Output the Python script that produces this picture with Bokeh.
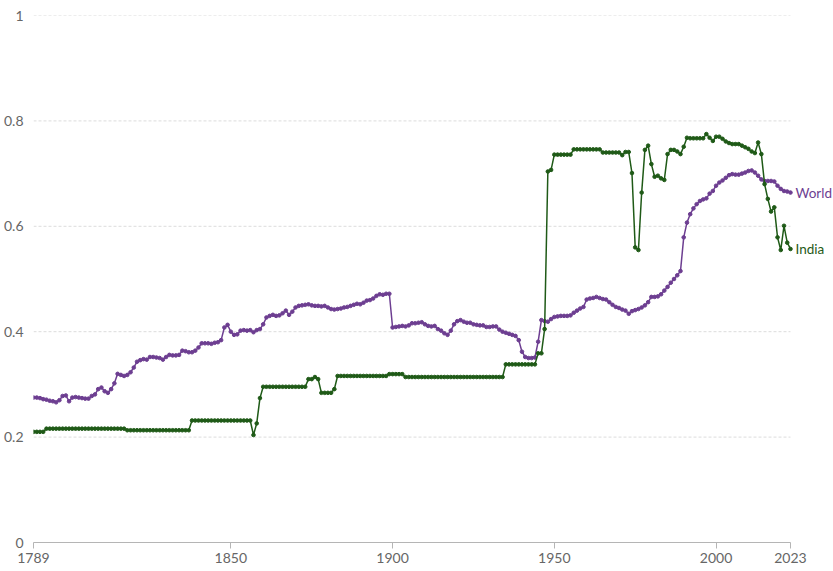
from bokeh.plotting import figure
from bokeh.models import Range1d, FixedTicker, Label, CustomJSTickFormatter, ColumnDataSource
from bokeh.embed import file_html
from bokeh.resources import INLINE

years = list(range(1789, 2024))

world = [
    0.275,
    0.275, 0.274, 0.272, 0.271, 0.269, 0.268, 0.266, 0.270, 0.278, 0.279,  # 1790s
    0.268, 0.275, 0.276, 0.275, 0.274, 0.273, 0.273, 0.278, 0.281, 0.291,  # 1800s
    0.294, 0.287, 0.284, 0.291, 0.302, 0.320, 0.318, 0.316, 0.318, 0.323,  # 1810s
    0.332, 0.343, 0.346, 0.348, 0.347, 0.352, 0.352, 0.351, 0.350, 0.347,  # 1820s
    0.352, 0.356, 0.355, 0.355, 0.356, 0.364, 0.363, 0.361, 0.361, 0.364,  # 1830s
    0.370, 0.378, 0.378, 0.378, 0.377, 0.379, 0.380, 0.384, 0.408, 0.413,  # 1840s
    0.400, 0.394, 0.395, 0.402, 0.403, 0.402, 0.403, 0.399, 0.403, 0.405,  # 1850s
    0.414, 0.427, 0.430, 0.432, 0.430, 0.431, 0.435, 0.440, 0.432, 0.438,  # 1860s
    0.446, 0.449, 0.450, 0.451, 0.452, 0.450, 0.449, 0.449, 0.448, 0.449,  # 1870s
    0.446, 0.443, 0.442, 0.443, 0.444, 0.446, 0.447, 0.449, 0.451, 0.453,  # 1880s
    0.452, 0.455, 0.459, 0.460, 0.463, 0.468, 0.471, 0.470, 0.472, 0.472,  # 1890s
    0.408, 0.409, 0.410, 0.411, 0.410, 0.412, 0.416, 0.416, 0.417, 0.418,  # 1900s
    0.414, 0.411, 0.410, 0.411, 0.405, 0.402, 0.397, 0.394, 0.402, 0.414,  # 1910s
    0.420, 0.422, 0.419, 0.417, 0.417, 0.414, 0.413, 0.412, 0.412, 0.409,  # 1920s
    0.409, 0.410, 0.410, 0.404, 0.400, 0.398, 0.396, 0.394, 0.392, 0.384,  # 1930s
    0.362, 0.352, 0.350, 0.350, 0.351, 0.381, 0.422, 0.420, 0.419, 0.424,  # 1940s
    0.428, 0.429, 0.430, 0.430, 0.430, 0.431, 0.436, 0.440, 0.444, 0.447,  # 1950s
    0.461, 0.463, 0.464, 0.466, 0.464, 0.462, 0.461, 0.456, 0.451, 0.447,  # 1960s
    0.445, 0.442, 0.440, 0.434, 0.439, 0.441, 0.443, 0.446, 0.450, 0.456,  # 1970s
    0.466, 0.466, 0.467, 0.471, 0.478, 0.485, 0.493, 0.500, 0.507, 0.515,  # 1980s
    0.579, 0.607, 0.623, 0.634, 0.642, 0.648, 0.651, 0.653, 0.662, 0.667,  # 1990s
    0.677, 0.683, 0.687, 0.692, 0.697, 0.699, 0.698, 0.698, 0.700, 0.702,  # 2000s
    0.705, 0.706, 0.702, 0.696, 0.689, 0.686, 0.686, 0.686, 0.685, 0.677,  # 2010s
    0.671, 0.667, 0.666, 0.664,                                            # 2020s
]

india = [
    0.210,
    0.210, 0.210, 0.210, 0.216, 0.216, 0.216, 0.216, 0.216, 0.216, 0.216,  # 1790s
    0.216, 0.216, 0.216, 0.216, 0.216, 0.216, 0.216, 0.216, 0.216, 0.216,  # 1800s
    0.216, 0.216, 0.216, 0.216, 0.216, 0.216, 0.216, 0.216, 0.213, 0.213,  # 1810s
    0.213, 0.213, 0.213, 0.213, 0.213, 0.213, 0.213, 0.213, 0.213, 0.213,  # 1820s
    0.213, 0.213, 0.213, 0.213, 0.213, 0.213, 0.213, 0.213, 0.2315, 0.2315,  # 1830s
    0.2315, 0.2315, 0.2315, 0.2315, 0.2315, 0.2315, 0.2315, 0.2315, 0.2315, 0.2315,  # 1840s
    0.2315, 0.2315, 0.2315, 0.2315, 0.2315, 0.2315, 0.2315, 0.204, 0.226, 0.274,  # 1850s
    0.2955, 0.2955, 0.2955, 0.2955, 0.2955, 0.2955, 0.2955, 0.2955, 0.2955, 0.2955,  # 1860s
    0.2955, 0.2955, 0.2955, 0.2955, 0.310, 0.310, 0.314, 0.310, 0.284, 0.284,  # 1870s
    0.284, 0.284, 0.291, 0.316, 0.316, 0.316, 0.316, 0.316, 0.316, 0.316,  # 1880s
    0.316, 0.316, 0.316, 0.316, 0.316, 0.316, 0.316, 0.316, 0.316, 0.3195,  # 1890s
    0.3195, 0.3195, 0.3195, 0.3195, 0.314, 0.314, 0.314, 0.314, 0.314, 0.314,  # 1900s
    0.314, 0.314, 0.314, 0.314, 0.314, 0.314, 0.314, 0.314, 0.314, 0.314,  # 1910s
    0.314, 0.314, 0.314, 0.314, 0.314, 0.314, 0.314, 0.314, 0.314, 0.314,  # 1920s
    0.314, 0.314, 0.314, 0.314, 0.314, 0.338, 0.338, 0.338, 0.338, 0.338,  # 1930s
    0.338, 0.338, 0.338, 0.338, 0.338, 0.359, 0.359, 0.405, 0.704, 0.707,  # 1940s
    0.736, 0.736, 0.736, 0.736, 0.736, 0.736, 0.746, 0.746, 0.746, 0.746,  # 1950s
    0.746, 0.746, 0.746, 0.746, 0.746, 0.740, 0.740, 0.740, 0.740, 0.740,  # 1960s
    0.740, 0.735, 0.741, 0.741, 0.701, 0.560, 0.555, 0.664, 0.745, 0.753,  # 1970s
    0.718, 0.694, 0.696, 0.691, 0.688, 0.737, 0.745, 0.745, 0.742, 0.737,  # 1980s
    0.751, 0.768, 0.767, 0.767, 0.767, 0.767, 0.767, 0.775, 0.768, 0.762,  # 1990s
    0.770, 0.770, 0.766, 0.761, 0.758, 0.756, 0.756, 0.756, 0.753, 0.750,  # 2000s
    0.747, 0.742, 0.739, 0.759, 0.737, 0.680, 0.652, 0.628, 0.636, 0.579,  # 2010s
    0.555, 0.601, 0.569, 0.557,                                            # 2020s
]

x_ticks = [1789, 1850, 1900, 1950, 2000, 2023]
y_ticks = [0, 0.2, 0.4, 0.6, 0.8, 1]
series_names = ["World", "India"]

assert len(world) == len(years) == len(india)

PURPLE = "#6d3e91"
GREEN = "#1f5a17"
FONT = "Lato"

# x range extends past the last year to leave room for the end labels
p = figure(width=833, height=571, output_backend="svg", toolbar_location=None,
           x_range=Range1d(years[0], 2036.3), y_range=Range1d(0, 1),
           min_border_left=25, min_border_right=0, min_border_top=15,
           min_border_bottom=29)
p.outline_line_color = None
p.background_fill_color = "white"
p.border_fill_color = "white"

p.xgrid.grid_line_color = None
p.ygrid.grid_line_color = None
# horizontal dashed grid lines spanning the data years only
p.segment(x0=[years[0]] * len(y_ticks), x1=[years[-1]] * len(y_ticks),
          y0=y_ticks, y1=y_ticks, line_color="#dcdcdc", line_dash="3 2", line_width=1)

p.xaxis.ticker = FixedTicker(ticks=x_ticks)
p.xaxis.bounds = (years[0], years[-1])
p.xaxis.formatter = CustomJSTickFormatter(code="return tick.toFixed(0);")
p.xaxis.axis_line_color = "#b5b5b5"
p.xaxis.major_tick_line_color = "#b5b5b5"
p.xaxis.major_tick_out = 6
p.xaxis.major_tick_in = 0
p.xaxis.minor_tick_line_color = None
p.xaxis.major_label_standoff = 4
p.xaxis.major_label_text_font = FONT
p.xaxis.major_label_text_font_size = "14px"
p.xaxis.major_label_text_color = "#666666"

p.yaxis.ticker = FixedTicker(ticks=y_ticks)
p.yaxis.formatter = CustomJSTickFormatter(
    code="return (tick == 0) ? '0' : (tick == 1 ? '1' : tick.toFixed(1));")
p.yaxis.axis_line_color = None
p.yaxis.major_tick_line_color = None
p.yaxis.minor_tick_line_color = None
p.yaxis.major_label_standoff = 4
p.yaxis.major_label_text_font = FONT
p.yaxis.major_label_text_font_size = "14px"
p.yaxis.major_label_text_color = "#666666"

src = ColumnDataSource(dict(year=years, world=world, india=india))

p.line("year", "world", source=src, line_color=PURPLE, line_width=1.5)
p.scatter("year", "world", source=src, size=3.6, fill_color=PURPLE, line_color=PURPLE)
p.line("year", "india", source=src, line_color=GREEN, line_width=1.5)
p.scatter("year", "india", source=src, size=3.6, fill_color=GREEN, line_color=GREEN)

for name, vals, col in [(series_names[0], world, PURPLE), (series_names[1], india, GREEN)]:
    p.add_layout(Label(x=years[-1], y=vals[-1], text=name, x_offset=5,
                       text_baseline="middle", text_align="left",
                       text_color=col, text_font=FONT, text_font_size="13.5px"))

open("out.html", "w").write(file_html(p, INLINE))
